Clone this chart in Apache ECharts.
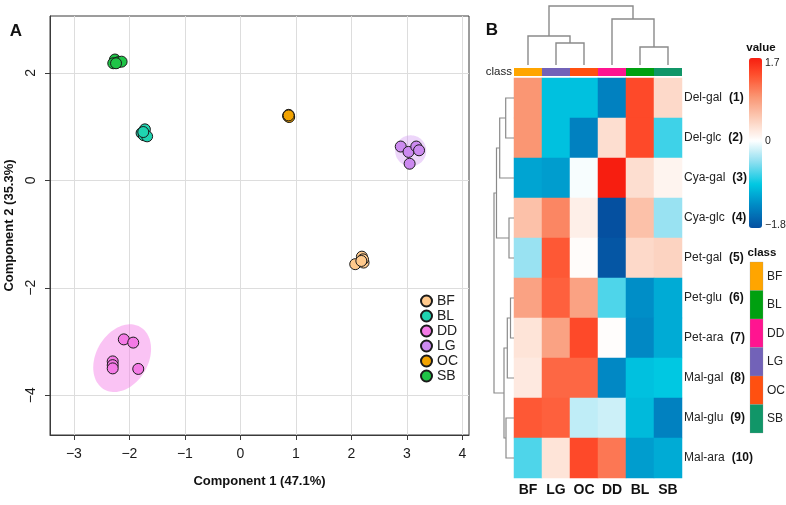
<!DOCTYPE html>
<html>
<head>
<meta charset="utf-8">
<script src="https://cdn.jsdelivr.net/npm/echarts@6/dist/echarts.min.js"></script>
<style>
html, body { margin: 0; padding: 0; background: #fff; }
#main { width: 786px; height: 505px; }
</style>
</head>
<body>
<div id="main"></div>
<script>
// ---- panel A : PCA scores ----
var groups = ['BF', 'BL', 'DD', 'LG', 'OC', 'SB'];
var groupColors = ['#FFC98C', '#1FD3B0', '#F47AE6', '#CC8AF0', '#F2A300', '#1FC447'];
var ptsBF = [[2.07, -1.56], [2.19, -1.42], [2.22, -1.53], [2.21, -1.47], [2.18, -1.50]];
var ptsBL = [[-1.72, 0.95], [-1.78, 0.88], [-1.74, 0.84], [-1.68, 0.82], [-1.75, 0.90]];
var ptsDD = [[-2.10, -2.96], [-1.93, -3.02], [-2.30, -3.37], [-2.30, -3.44], [-2.30, -3.50], [-1.84, -3.51]];
var ptsLG = [[2.89, 0.63], [3.03, 0.53], [3.17, 0.63], [3.22, 0.56], [3.05, 0.31]];
var ptsOC = [[0.87, 1.22], [0.87, 1.19], [0.86, 1.20], [0.88, 1.18], [0.87, 1.21]];
var ptsSB = [[-2.26, 2.25], [-2.29, 2.18], [-2.20, 2.20], [-2.14, 2.21], [-2.24, 2.18]];
var groupPts = [ptsBF, ptsBL, ptsDD, ptsLG, ptsOC, ptsSB];
// confidence ellipses: cx, cy, semi-axis a, semi-axis b (x units), angle
var ellDD = [-2.13, -3.31, 0.65, 0.47, 60];
var ellLG = [3.07, 0.55, 0.28, 0.28, 0];
var xTicks = [-3, -2, -1, 0, 1, 2, 3, 4];
var yTicks = [-4, -2, 0, 2];

// ---- panel B : heatmap ----
var colLabels = ['BF', 'LG', 'OC', 'DD', 'BL', 'SB'];
var rowNames = ['Del-gal', 'Del-glc', 'Cya-gal', 'Cya-glc', 'Pet-gal', 'Pet-glu', 'Pet-ara', 'Mal-gal', 'Mal-glu', 'Mal-ara'];
var rowNums = ['1', '2', '3', '4', '5', '6', '7', '8', '9', '10'];
var heatValues = [
    [0.9, -0.95, -0.95, -1.4, 1.4, 0.35],
    [0.9, -0.95, -1.4, 0.3, 1.4, -0.7],
    [-1.15, -1.2, -0.03, 1.7, 0.3, 0.1],
    [0.55, 1.0, 0.15, -1.8, 0.55, -0.4],
    [-0.4, 1.3, 0.03, -1.75, 0.35, 0.4],
    [0.8, 1.25, 0.8, -0.65, -1.3, -1.1],
    [0.25, 0.8, 1.4, 0.02, -1.35, -1.1],
    [0.2, 1.2, 1.2, -1.35, -0.95, -0.9],
    [1.3, 1.25, -0.25, -0.2, -1.0, -1.4],
    [-0.65, 0.25, 1.4, 1.1, -1.2, -1.1]
];
var valueMin = -1.8, valueMax = 1.7;
var classNames = ['BF', 'BL', 'DD', 'LG', 'OC', 'SB'];
var classColors = ['#FFA500', '#00A010', '#FF1490', '#7262B8', '#FF5010', '#119668'];
// hclust style merges (negative = leaf in display order) and heights
var colMerge = [[-2, -3], [-5, -6], [-1, 1], [-4, 2], [3, 4]];
var colHeights = [2.2, 1.8, 2.9, 4.6, 5.9];
var rowMerge = [[-1, -2], [-4, -5], [1, -3], [3, 2], [-6, -7], [5, -8], [-9, -10], [6, 7], [4, 8]];
var rowHeights = [8.3, 5, 14.3, 17.5, 3.5, 6.7, 8, 10, 20];

var classColor = {};
classNames.forEach(function (c, i) { classColor[c] = classColors[i]; });

// colour ramp, blue - cyan - white - salmon - red
var rampStops = [
    [-1.8, [5, 80, 160]], [-1.35, [0, 135, 196]], [-0.9, [0, 200, 226]], [-0.45, [140, 222, 240]],
    [0, [255, 255, 255]], [0.45, [252, 205, 185]], [0.9, [250, 150, 115]], [1.35, [255, 80, 45]], [1.7, [247, 30, 16]]
];
function rampColor(v) {
    for (var k = 1; k < rampStops.length; k++) {
        if (v <= rampStops[k][0] + 1e-9) {
            var a = rampStops[k - 1], b = rampStops[k];
            var t = (v - a[0]) / (b[0] - a[0]);
            var c = a[1].map(function (x, j) { return Math.round(x + (b[1][j] - x) * t); });
            return 'rgb(' + c.join(',') + ')';
        }
    }
    return 'rgb(' + rampStops[rampStops.length - 1][1].join(',') + ')';
}
var palette = [];
for (var s = 0; s <= 35; s++) palette.push(rampColor(valueMin + s * 0.1));

function dendroLinks(merge, heights) {
    var pos = [], hgt = [], links = [];
    merge.forEach(function (m, k) {
        var a = m.map(function (id) { return id < 0 ? [-id - 0.5, 0] : [pos[id - 1], hgt[id - 1]]; });
        pos[k] = (a[0][0] + a[1][0]) / 2;
        hgt[k] = heights[k];
        links.push([a[0][0], a[0][1], a[1][0], a[1][1], heights[k]]);
    });
    return links;
}

function ellipseItem(ell, color) {
    return function (params, api) {
        var c = api.coord([ell[0], ell[1]]);
        var sz = api.size([1, 1]);
        var a = ell[2] * sz[0], b = ell[3] * sz[0], th = ell[4] * Math.PI / 180;
        var pts = [];
        for (var k = 0; k < 90; k++) {
            var t = k / 90 * 2 * Math.PI;
            var x = a * Math.cos(t), y = b * Math.sin(t);
            pts.push([c[0] + x * Math.cos(th) - y * Math.sin(th), c[1] - (x * Math.sin(th) + y * Math.cos(th))]);
        }
        return { type: 'polygon', shape: { points: pts }, style: { fill: color } };
    };
}

function minus(v) { return String(v).replace('-', '\u2212'); }

var heatData = [];
heatValues.forEach(function (row, r) {
    row.forEach(function (v, c) { heatData.push([c, r, v]); });
});

var dom = document.getElementById('main');
var myChart = echarts.init(dom);

var series = [
    {
        name: 'ellDD', type: 'custom', xAxisIndex: 0, yAxisIndex: 0, z: 1, silent: true,
        renderItem: ellipseItem(ellDD, 'rgba(244,122,230,0.45)'), data: [[ellDD[0], ellDD[1]]]
    },
    {
        name: 'ellLG', type: 'custom', xAxisIndex: 0, yAxisIndex: 0, z: 1, silent: true,
        renderItem: ellipseItem(ellLG, 'rgba(204,138,240,0.35)'), data: [[ellLG[0], ellLG[1]]]
    }
];
groups.forEach(function (g, i) {
    series.push({
        name: g, type: 'scatter', xAxisIndex: 0, yAxisIndex: 0, z: 3,
        symbolSize: 11, data: groupPts[i],
        itemStyle: { color: groupColors[i], borderColor: '#1a1a1a', borderWidth: 1, opacity: 1 }
    });
});
var heatIndex = series.length;
series.push({
    type: 'heatmap', xAxisIndex: 1, yAxisIndex: 1, data: heatData,
    emphasis: { disabled: true }
});
series.push({
    type: 'custom', xAxisIndex: 2, yAxisIndex: 2, silent: true,
    data: colLabels.map(function (c, i) { return [i, 0]; }),
    renderItem: function (params, api) {
        var i = api.value(0);
        var p = api.coord([i, 0]);
        var sz = api.size([1, 1]);
        return {
            type: 'rect',
            shape: { x: p[0] - sz[0] / 2, y: p[1] - sz[1] / 2, width: sz[0], height: sz[1] },
            style: { fill: classColor[colLabels[i]] }
        };
    }
});
series.push({
    type: 'custom', xAxisIndex: 3, yAxisIndex: 3, silent: true,
    data: dendroLinks(colMerge, colHeights),
    renderItem: function (params, api) {
        var x1 = api.value(0), h1 = api.value(1), x2 = api.value(2), h2 = api.value(3), h = api.value(4);
        return {
            type: 'polyline',
            shape: { points: [api.coord([x1, h1]), api.coord([x1, h]), api.coord([x2, h]), api.coord([x2, h2])] },
            style: { stroke: '#8a8a8a', lineWidth: 1.4, fill: null }
        };
    }
});
series.push({
    type: 'custom', xAxisIndex: 4, yAxisIndex: 4, silent: true,
    data: dendroLinks(rowMerge, rowHeights),
    renderItem: function (params, api) {
        var y1 = api.value(0), h1 = api.value(1), y2 = api.value(2), h2 = api.value(3), h = api.value(4);
        return {
            type: 'polyline',
            shape: { points: [api.coord([h1, y1]), api.coord([h, y1]), api.coord([h, y2]), api.coord([h2, y2])] },
            style: { stroke: '#8a8a8a', lineWidth: 1.2, fill: null }
        };
    }
});

var hidden = { show: false };
var graphics = [
    { type: 'text', x: 16, y: 31, style: { text: 'A', font: 'bold 17px Liberation Sans', fill: '#111', textAlign: 'center', textVerticalAlign: 'middle' } },
    { type: 'text', x: 492, y: 30, style: { text: 'B', font: 'bold 17px Liberation Sans', fill: '#111', textAlign: 'center', textVerticalAlign: 'middle' } },
    { type: 'text', x: 761, y: 48, style: { text: 'value', font: 'bold 11.5px Liberation Sans', fill: '#111', textAlign: 'center', textVerticalAlign: 'middle' } },
    { type: 'text', x: 765, y: 63, style: { text: '1.7', font: '10.5px Liberation Sans', fill: '#222', textVerticalAlign: 'middle' } },
    { type: 'text', x: 765, y: 141, style: { text: '0', font: '10.5px Liberation Sans', fill: '#222', textVerticalAlign: 'middle' } },
    { type: 'text', x: 765, y: 225, style: { text: minus(valueMin), font: '10.5px Liberation Sans', fill: '#222', textVerticalAlign: 'middle' } },
    { type: 'text', x: 762, y: 253, style: { text: 'class', font: 'bold 11.5px Liberation Sans', fill: '#111', textAlign: 'center', textVerticalAlign: 'middle' } }
];
classNames.forEach(function (c, i) {
    var y0 = 262 + i * 28.5;
    graphics.push({ type: 'rect', shape: { x: 750, y: y0, width: 13, height: 28.5 }, style: { fill: classColors[i], stroke: 'rgba(150,150,150,0.5)', lineWidth: 0.5 } });
    graphics.push({ type: 'text', x: 767, y: y0 + 14.5, style: { text: c, font: '12px Liberation Sans', fill: '#222', textVerticalAlign: 'middle' } });
});

option = {
    animation: false,
    backgroundColor: '#ffffff',
    textStyle: { fontFamily: 'Liberation Sans, Arial, sans-serif' },
    grid: [
        { left: 50, top: 16, width: 419, height: 419, show: true, borderColor: '#3a3a3a', borderWidth: 1, outerBoundsMode: 'none', containLabel: false },
        { left: 514, top: 78, width: 168, height: 400, outerBoundsMode: 'none', containLabel: false },
        { left: 514, top: 68, width: 168, height: 8, outerBoundsMode: 'none', containLabel: false },
        { left: 514, top: 6, width: 168, height: 59, outerBoundsMode: 'none', containLabel: false },
        { left: 494, top: 78, width: 20, height: 400, outerBoundsMode: 'none', containLabel: false }
    ],
    legend: {
        data: groups, orient: 'vertical', left: 420, top: 294, padding: 0,
        itemWidth: 11, itemHeight: 11, itemGap: 1, icon: 'circle',
        textStyle: { fontSize: 14, color: '#222' }
    },
    xAxis: [
        {
            gridIndex: 0, type: 'value', min: -3.43, max: 4.12, splitNumber: 7,
            name: 'Component 1 (47.1%)', nameLocation: 'middle', nameGap: 40,
            nameTextStyle: { fontWeight: 'bold', fontSize: 13, color: '#111' },
            axisLine: { show: true, onZero: false, lineStyle: { color: '#3a3a3a' } },
            axisTick: { show: true, length: 5, customValues: xTicks, lineStyle: { color: '#3a3a3a' } },
            axisLabel: { customValues: xTicks, fontSize: 14, color: '#1a1a1a', margin: 12, formatter: minus },
            splitLine: { show: true, lineStyle: { color: '#dddddd' } }
        },
        {
            gridIndex: 1, type: 'category', data: colLabels, position: 'bottom',
            axisLine: hidden, axisTick: hidden, splitLine: hidden,
            axisLabel: { fontSize: 14, fontWeight: 'bold', color: '#111', margin: 5 }
        },
        { gridIndex: 2, type: 'category', data: colLabels, show: false },
        { gridIndex: 3, type: 'value', min: 0, max: 6, show: false },
        { gridIndex: 4, type: 'value', min: 0, max: 20, inverse: true, show: false }
    ],
    yAxis: [
        {
            gridIndex: 0, type: 'value', min: -4.74, max: 3.06, splitNumber: 4,
            name: 'Component 2 (35.3%)', nameLocation: 'middle', nameGap: 28, nameRotate: 90,
            nameTextStyle: { fontWeight: 'bold', fontSize: 13, color: '#111' },
            axisLine: { show: true, onZero: false, lineStyle: { color: '#3a3a3a' } },
            axisTick: { show: true, length: 5, customValues: yTicks, lineStyle: { color: '#3a3a3a' } },
            axisLabel: { customValues: yTicks, rotate: 90, fontSize: 14, color: '#1a1a1a', margin: 12, formatter: minus },
            splitLine: { show: true, lineStyle: { color: '#dddddd' } }
        },
        {
            gridIndex: 1, type: 'category', data: rowNames, inverse: true, position: 'right',
            axisLine: hidden, axisTick: hidden, splitLine: hidden,
            axisLabel: {
                margin: 2, fontSize: 12, color: '#222',
                formatter: function (v, i) { return '{n|' + v + '}{b|(' + rowNums[i] + ')}'; },
                rich: {
                    n: { fontSize: 12, color: '#222' },
                    b: { fontSize: 12, fontWeight: 'bold', color: '#111', padding: [0, 0, 0, 7] }
                }
            }
        },
        {
            gridIndex: 2, type: 'category', data: ['class'],
            axisLine: hidden, axisTick: hidden, splitLine: hidden,
            axisLabel: { fontSize: 11.5, color: '#222', margin: 2 }
        },
        { gridIndex: 3, type: 'value', min: 0, max: 5.9, show: false },
        { gridIndex: 4, type: 'value', min: 0, max: 10, inverse: true, show: false }
    ],
    visualMap: {
        type: 'continuous', seriesIndex: heatIndex, min: valueMin, max: valueMax,
        show: true, calculable: false, hoverLink: false, left: 749, top: 58, padding: 0,
        itemWidth: 13, itemHeight: 170, inRange: { color: palette }
    },
    graphic: graphics,
    series: series
};

if (option && typeof option === "object") {
    myChart.setOption(option, true);
}
</script>
</body>
</html>
